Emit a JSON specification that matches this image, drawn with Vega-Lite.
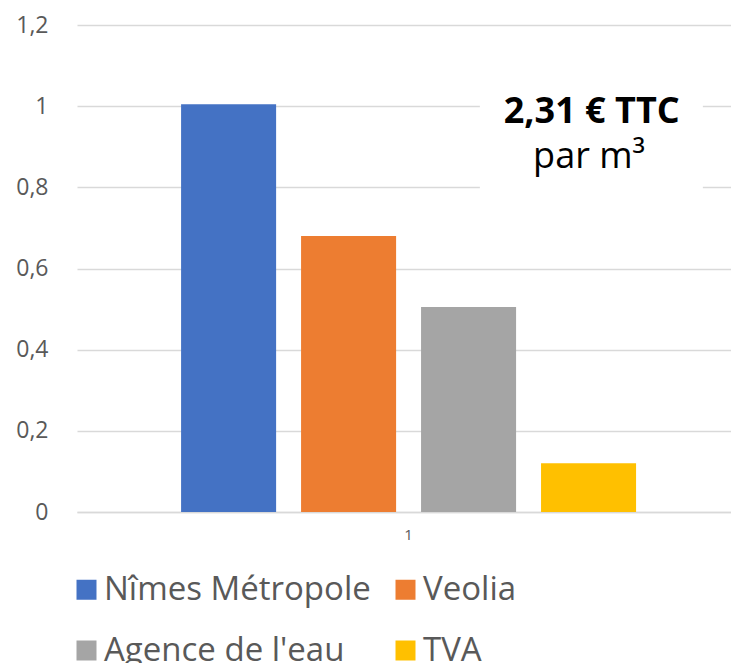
{
  "$schema": "https://vega.github.io/schema/vega-lite/v6.json",
  "width": 654,
  "height": 487,
  "autosize": {"type": "none"},
  "padding": {"left": 77, "top": 25, "right": 0, "bottom": 151},
  "background": "white",
  "config": {"view": {"stroke": null}, "font": "Open Sans"},
  "layer": [
    {
      "data": {"values": [
        {"cat": "1", "poste": "Nîmes Métropole", "valeur": 1.005},
        {"cat": "1", "poste": "Veolia", "valeur": 0.68},
        {"cat": "1", "poste": "Agence de l'eau", "valeur": 0.505},
        {"cat": "1", "poste": "TVA", "valeur": 0.12}
      ]},
      "mark": {"type": "bar"},
      "encoding": {
        "x": {
          "field": "cat", "type": "nominal",
          "scale": {"paddingInner": 0, "paddingOuter": 0.2187, "align": 0.523},
          "axis": {"title": null, "domain": true, "domainColor": "#d9d9d9", "domainWidth": 1.3, "ticks": false, "labelAngle": 0, "labelFontSize": 15, "labelColor": "#595959", "labelPadding": 15}
        },
        "xOffset": {
          "field": "poste", "type": "nominal",
          "scale": {"domain": ["Nîmes Métropole", "Veolia", "Agence de l'eau", "TVA"], "paddingInner": 0.208, "paddingOuter": 0}
        },
        "y": {
          "field": "valeur", "type": "quantitative",
          "scale": {"domain": [0, 1.2], "nice": false},
          "axis": {"title": null, "domain": false, "ticks": false, "grid": true, "gridColor": "#d9d9d9", "gridWidth": 1.3, "values": [0, 0.2, 0.4, 0.6, 0.8, 1, 1.2], "format": ".1~f", "labelExpr": "replace(datum.label, '.', ',')", "labelFontSize": 23, "labelColor": "#595959", "labelPadding": 29}
        },
        "color": {
          "field": "poste", "type": "nominal",
          "scale": {"domain": ["Nîmes Métropole", "Veolia", "Agence de l'eau", "TVA"], "range": ["#4472C4", "#ED7D31", "#A5A5A5", "#FFC000"]},
          "legend": {"title": null, "orient": "none", "legendX": -7, "legendY": 548, "direction": "horizontal", "columns": 2, "symbolType": "square", "symbolSize": 400, "symbolStrokeWidth": 0, "labelFontSize": 33, "labelColor": "#595959", "labelOffset": 1, "rowPadding": 27, "columnPadding": 18, "labelLimit": 0, "padding": 0}
        }
      }
    },
    {
      "data": {"values": [{"x1": 0.616, "x2": 0.957, "y1": 0.68, "y2": 1.12}]},
      "mark": {"type": "rect", "fill": "white"},
      "encoding": {
        "x": {"field": "x1", "type": "quantitative", "scale": {"domain": [0, 1]}, "axis": null},
        "x2": {"field": "x2"},
        "y": {"field": "y1", "type": "quantitative"},
        "y2": {"field": "y2"}
      }
    },
    {
      "data": {"values": [{"tx": 0.787, "ty": 0.9586, "label": "2,31 € TTC"}]},
      "mark": {"type": "text", "fontWeight": "bold", "fontSize": 36, "color": "#000000", "align": "center", "baseline": "alphabetic"},
      "encoding": {
        "x": {"field": "tx", "type": "quantitative", "scale": {"domain": [0, 1]}, "axis": null},
        "y": {"field": "ty", "type": "quantitative"},
        "text": {"field": "label"}
      }
    },
    {
      "data": {"values": [{"tx": 0.783, "ty": 0.848, "label": "par m³"}]},
      "mark": {"type": "text", "fontWeight": "normal", "fontSize": 36, "color": "#000000", "align": "center", "baseline": "alphabetic"},
      "encoding": {
        "x": {"field": "tx", "type": "quantitative", "scale": {"domain": [0, 1]}, "axis": null},
        "y": {"field": "ty", "type": "quantitative"},
        "text": {"field": "label"}
      }
    }
  ],
  "resolve": {"scale": {"x": "independent"}}
}
